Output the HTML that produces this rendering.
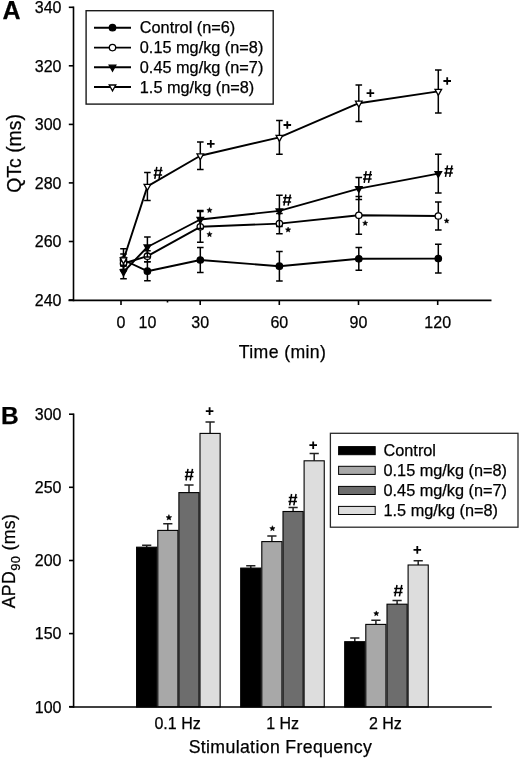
<!DOCTYPE html>
<html><head><meta charset="utf-8"><style>
html,body{margin:0;padding:0;background:#fff;}
svg{display:block;filter:grayscale(1);}
text{font-family:"Liberation Sans", sans-serif;fill:#000;stroke:#000;stroke-width:0.25px;}
.t16{font-size:16px;}
.t18{font-size:17.7px;letter-spacing:0.36px;}
.t163{font-size:16.3px;}
.tb{font-size:25px;font-weight:bold;}
.ax{stroke:#000;stroke-width:1.6;fill:none;}
.eb{stroke:#000;stroke-width:1.5;fill:none;}
.dl{stroke:#000;stroke-width:1.9;fill:none;stroke-linejoin:round;}
</style></head><body>
<svg width="520" height="758" viewBox="0 0 520 758">
<rect width="520" height="758" fill="#fff"/>
<line x1="73.5" y1="6.5" x2="73.5" y2="301.2" class="ax"/>
<line x1="68.8" y1="7.3" x2="73.5" y2="7.3" class="ax"/>
<text x="61.5" y="13.1" text-anchor="end" class="t16">340</text>
<line x1="68.8" y1="65.8" x2="73.5" y2="65.8" class="ax"/>
<text x="61.5" y="71.6" text-anchor="end" class="t16">320</text>
<line x1="68.8" y1="124.4" x2="73.5" y2="124.4" class="ax"/>
<text x="61.5" y="130.2" text-anchor="end" class="t16">300</text>
<line x1="68.8" y1="182.9" x2="73.5" y2="182.9" class="ax"/>
<text x="61.5" y="188.7" text-anchor="end" class="t16">280</text>
<line x1="68.8" y1="241.5" x2="73.5" y2="241.5" class="ax"/>
<text x="61.5" y="247.3" text-anchor="end" class="t16">260</text>
<line x1="68.8" y1="300.0" x2="73.5" y2="300.0" class="ax"/>
<text x="61.5" y="305.8" text-anchor="end" class="t16">240</text>
<line x1="68.5" y1="300.4" x2="491.5" y2="300.4" class="ax"/>
<line x1="121.0" y1="300.3" x2="121.0" y2="305" class="ax"/>
<line x1="200.2" y1="300.3" x2="200.2" y2="305" class="ax"/>
<line x1="279.3" y1="300.3" x2="279.3" y2="305" class="ax"/>
<line x1="358.5" y1="300.3" x2="358.5" y2="305" class="ax"/>
<line x1="437.7" y1="300.3" x2="437.7" y2="305" class="ax"/>
<line x1="167.5" y1="300.3" x2="167.5" y2="302.5" class="ax"/>
<text x="121.0" y="327.8" text-anchor="middle" class="t16">0</text>
<text x="147.4" y="327.8" text-anchor="middle" class="t16">10</text>
<text x="200.2" y="327.8" text-anchor="middle" class="t16">30</text>
<text x="279.3" y="327.8" text-anchor="middle" class="t16">60</text>
<text x="358.5" y="327.8" text-anchor="middle" class="t16">90</text>
<text x="437.7" y="327.8" text-anchor="middle" class="t16">120</text>
<text x="282.5" y="357.8" text-anchor="middle" class="t18">Time (min)</text>
<text transform="translate(20.6,153.4) rotate(-90)" text-anchor="middle" style="font-size:19.4px">QTc (ms)</text>
<text x="2.5" y="19" class="tb">A</text>
<path d="M123.5 254.0V266.0M120.2 254.0h6.6M120.2 266.0h6.6" class="eb"/>
<path d="M147.4 261.7V280.7M144.1 261.7h6.6M144.1 280.7h6.6" class="eb"/>
<path d="M200.3 247.4V272.6M197.0 247.4h6.6M197.0 272.6h6.6" class="eb"/>
<path d="M279.4 251.5V280.9M276.1 251.5h6.6M276.1 280.9h6.6" class="eb"/>
<path d="M358.8 247.4V270.2M355.5 247.4h6.6M355.5 270.2h6.6" class="eb"/>
<path d="M438.3 244.2V273.0M435.0 244.2h6.6M435.0 273.0h6.6" class="eb"/>
<polyline points="123.5,260.0 147.4,271.2 200.3,260.0 279.4,266.2 358.8,258.8 438.3,258.6" class="dl"/>
<circle cx="123.5" cy="260.0" r="3.2" fill="#000" stroke="#000" stroke-width="1.3"/>
<circle cx="147.4" cy="271.2" r="3.2" fill="#000" stroke="#000" stroke-width="1.3"/>
<circle cx="200.3" cy="260.0" r="3.2" fill="#000" stroke="#000" stroke-width="1.3"/>
<circle cx="279.4" cy="266.2" r="3.2" fill="#000" stroke="#000" stroke-width="1.3"/>
<circle cx="358.8" cy="258.8" r="3.2" fill="#000" stroke="#000" stroke-width="1.3"/>
<circle cx="438.3" cy="258.6" r="3.2" fill="#000" stroke="#000" stroke-width="1.3"/>
<path d="M123.5 257.5V269.5M120.2 257.5h6.6M120.2 269.5h6.6" class="eb"/>
<path d="M147.4 250.7V261.7M144.1 250.7h6.6M144.1 261.7h6.6" class="eb"/>
<path d="M200.3 211.4V242.2M197.0 211.4h6.6M197.0 242.2h6.6" class="eb"/>
<path d="M279.4 213.4V233.8M276.1 213.4h6.6M276.1 233.8h6.6" class="eb"/>
<path d="M358.8 196.4V234.2M355.5 196.4h6.6M355.5 234.2h6.6" class="eb"/>
<path d="M438.3 201.9V230.1M435.0 201.9h6.6M435.0 230.1h6.6" class="eb"/>
<polyline points="123.5,263.5 147.4,256.2 200.3,226.8 279.4,223.6 358.8,215.3 438.3,216.0" class="dl"/>
<circle cx="123.5" cy="263.5" r="3.2" fill="#fff" stroke="#000" stroke-width="1.3"/>
<circle cx="147.4" cy="256.2" r="3.2" fill="#fff" stroke="#000" stroke-width="1.3"/>
<circle cx="200.3" cy="226.8" r="3.2" fill="#fff" stroke="#000" stroke-width="1.3"/>
<circle cx="279.4" cy="223.6" r="3.2" fill="#fff" stroke="#000" stroke-width="1.3"/>
<circle cx="358.8" cy="215.3" r="3.2" fill="#fff" stroke="#000" stroke-width="1.3"/>
<circle cx="438.3" cy="216.0" r="3.2" fill="#fff" stroke="#000" stroke-width="1.3"/>
<path d="M123.5 265.2V278.8M120.2 265.2h6.6M120.2 278.8h6.6" class="eb"/>
<path d="M147.4 237.0V257.0M144.1 237.0h6.6M144.1 257.0h6.6" class="eb"/>
<path d="M200.3 210.5V228.5M197.0 210.5h6.6M197.0 228.5h6.6" class="eb"/>
<path d="M279.4 195.3V226.5M276.1 195.3h6.6M276.1 226.5h6.6" class="eb"/>
<path d="M358.8 177.6V199.6M355.5 177.6h6.6M355.5 199.6h6.6" class="eb"/>
<path d="M438.3 154.2V193.0M435.0 154.2h6.6M435.0 193.0h6.6" class="eb"/>
<polyline points="123.5,272.0 147.4,247.0 200.3,219.5 279.4,210.9 358.8,188.6 438.3,173.6" class="dl"/>
<path d="M120.2 270.0H126.8L123.5 275.9Z" fill="#000" stroke="#000" stroke-width="1.3" stroke-linejoin="miter"/>
<path d="M144.1 245.0H150.7L147.4 250.9Z" fill="#000" stroke="#000" stroke-width="1.3" stroke-linejoin="miter"/>
<path d="M197.0 217.5H203.6L200.3 223.4Z" fill="#000" stroke="#000" stroke-width="1.3" stroke-linejoin="miter"/>
<path d="M276.1 208.9H282.7L279.4 214.8Z" fill="#000" stroke="#000" stroke-width="1.3" stroke-linejoin="miter"/>
<path d="M355.5 186.6H362.1L358.8 192.5Z" fill="#000" stroke="#000" stroke-width="1.3" stroke-linejoin="miter"/>
<path d="M435.0 171.6H441.6L438.3 177.5Z" fill="#000" stroke="#000" stroke-width="1.3" stroke-linejoin="miter"/>
<path d="M123.5 248.8V270.8M120.2 248.8h6.6M120.2 270.8h6.6" class="eb"/>
<path d="M147.4 172.4V200.4M144.1 172.4h6.6M144.1 200.4h6.6" class="eb"/>
<path d="M200.3 142.0V169.6M197.0 142.0h6.6M197.0 169.6h6.6" class="eb"/>
<path d="M279.4 120.5V154.3M276.1 120.5h6.6M276.1 154.3h6.6" class="eb"/>
<path d="M358.8 84.9V121.5M355.5 84.9h6.6M355.5 121.5h6.6" class="eb"/>
<path d="M438.3 69.9V112.9M435.0 69.9h6.6M435.0 112.9h6.6" class="eb"/>
<polyline points="123.5,259.8 147.4,186.4 200.3,155.8 279.4,137.4 358.8,103.2 438.3,91.4" class="dl"/>
<path d="M120.2 257.8H126.8L123.5 263.7Z" fill="#fff" stroke="#000" stroke-width="1.3" stroke-linejoin="miter"/>
<path d="M144.1 184.4H150.7L147.4 190.3Z" fill="#fff" stroke="#000" stroke-width="1.3" stroke-linejoin="miter"/>
<path d="M197.0 153.8H203.6L200.3 159.7Z" fill="#fff" stroke="#000" stroke-width="1.3" stroke-linejoin="miter"/>
<path d="M276.1 135.4H282.7L279.4 141.3Z" fill="#fff" stroke="#000" stroke-width="1.3" stroke-linejoin="miter"/>
<path d="M355.5 101.2H362.1L358.8 107.1Z" fill="#fff" stroke="#000" stroke-width="1.3" stroke-linejoin="miter"/>
<path d="M435.0 89.4H441.6L438.3 95.3Z" fill="#fff" stroke="#000" stroke-width="1.3" stroke-linejoin="miter"/>
<path d="M156.8 166.9L154.8 178.8M161.3 166.9L159.0 178.8M154.0 170.5H162.5M153.6 174.9H162.1" stroke="#000" stroke-width="1.5" fill="none"/>
<path d="M207.0 143.9h7.6M210.8 140.1v7.6" stroke="#000" stroke-width="1.8" fill="none"/>
<polygon points="209.50,207.55 210.24,209.33 212.16,209.48 210.70,210.74 211.15,212.62 209.50,211.61 207.85,212.62 208.30,210.74 206.84,209.48 208.76,209.33" fill="#000" stroke="#000" stroke-width="0.5"/>
<polygon points="209.50,231.60 210.24,233.38 212.16,233.53 210.70,234.79 211.15,236.67 209.50,235.66 207.85,236.67 208.30,234.79 206.84,233.53 208.76,233.38" fill="#000" stroke="#000" stroke-width="0.5"/>
<path d="M283.5 125.0h7.6M287.3 121.2v7.6" stroke="#000" stroke-width="1.8" fill="none"/>
<path d="M285.9 194.5L283.9 205.6M290.4 194.5L288.1 205.6M283.2 197.8H291.5M282.8 201.9H291.1" stroke="#000" stroke-width="1.5" fill="none"/>
<polygon points="288.10,227.00 288.84,228.78 290.76,228.93 289.30,230.19 289.75,232.07 288.10,231.06 286.45,232.07 286.90,230.19 285.44,228.93 287.36,228.78" fill="#000" stroke="#000" stroke-width="0.5"/>
<path d="M366.6 93.1h7.6M370.4 89.3v7.6" stroke="#000" stroke-width="1.8" fill="none"/>
<path d="M366.2 171.2L364.2 182.8M370.8 171.2L368.5 182.8M363.4 174.7H372.0M363.0 179.0H371.6" stroke="#000" stroke-width="1.5" fill="none"/>
<polygon points="365.20,220.50 365.91,222.22 367.77,222.37 366.36,223.58 366.79,225.38 365.20,224.41 363.61,225.38 364.04,223.58 362.63,222.37 364.49,222.22" fill="#000" stroke="#000" stroke-width="0.5"/>
<path d="M443.4 81.0h7.6M447.2 77.2v7.6" stroke="#000" stroke-width="1.8" fill="none"/>
<path d="M447.5 165.3L445.5 176.9M452.0 165.3L449.7 176.9M444.7 168.8H453.2M444.3 173.1H452.8" stroke="#000" stroke-width="1.5" fill="none"/>
<polygon points="446.65,218.30 447.35,219.99 449.17,220.13 447.78,221.32 448.21,223.09 446.65,222.14 445.09,223.09 445.52,221.32 444.13,220.13 445.95,219.99" fill="#000" stroke="#000" stroke-width="0.5"/>
<rect x="86.1" y="10.7" width="187.1" height="93.4" fill="#fff" stroke="#1a1a1a" stroke-width="1.4"/>
<line x1="94" y1="27.7" x2="131" y2="27.7" class="dl"/>
<circle cx="112.5" cy="27.7" r="3.2" fill="#000" stroke="#000" stroke-width="1.3"/>
<text x="139.8" y="33.3" class="t163">Control (n=6)</text>
<line x1="94" y1="47.6" x2="131" y2="47.6" class="dl"/>
<circle cx="112.5" cy="47.6" r="3.2" fill="#fff" stroke="#000" stroke-width="1.3"/>
<text x="139.8" y="53.2" class="t163">0.15 mg/kg (n=8)</text>
<line x1="94" y1="67.2" x2="131" y2="67.2" class="dl"/>
<path d="M109.2 65.2H115.8L112.5 71.1Z" fill="#000" stroke="#000" stroke-width="1.3" stroke-linejoin="miter"/>
<text x="139.8" y="72.8" class="t163">0.45 mg/kg (n=7)</text>
<line x1="94" y1="87.0" x2="131" y2="87.0" class="dl"/>
<path d="M109.2 85.0H115.8L112.5 90.9Z" fill="#fff" stroke="#000" stroke-width="1.3" stroke-linejoin="miter"/>
<text x="139.8" y="92.6" class="t163">1.5 mg/kg (n=8)</text>
<line x1="73.6" y1="413.4" x2="73.6" y2="707.8" class="ax"/>
<line x1="69" y1="414.2" x2="73.6" y2="414.2" class="ax"/>
<text x="61.5" y="420.0" text-anchor="end" class="t16">300</text>
<line x1="69" y1="487.3" x2="73.6" y2="487.3" class="ax"/>
<text x="61.5" y="493.1" text-anchor="end" class="t16">250</text>
<line x1="69" y1="560.5" x2="73.6" y2="560.5" class="ax"/>
<text x="61.5" y="566.2" text-anchor="end" class="t16">200</text>
<line x1="69" y1="633.6" x2="73.6" y2="633.6" class="ax"/>
<text x="61.5" y="639.4" text-anchor="end" class="t16">150</text>
<line x1="69" y1="706.7" x2="73.6" y2="706.7" class="ax"/>
<text x="61.5" y="712.5" text-anchor="end" class="t16">100</text>
<text x="1.1" y="424.1" class="tb" style="font-size:24.5px">B</text>
<text transform="translate(14.6,561.0) rotate(-90)" text-anchor="middle" class="t18">APD<tspan style="font-size:12.9px" dy="5.7">90</tspan><tspan dy="-5.7"> (ms)</tspan></text>
<path d="M146.7 547.2V545.3M142.1 545.3h9.2" stroke="#222" stroke-width="1.5" fill="none"/>
<rect x="136.6" y="547.2" width="20.15" height="159.8" fill="#000" stroke="#000" stroke-width="1.1"/>
<path d="M167.8 530.4V523.7M163.2 523.7h9.2" stroke="#222" stroke-width="1.5" fill="none"/>
<rect x="157.8" y="530.4" width="20.15" height="176.6" fill="#a8a8a8" stroke="#000" stroke-width="1.1"/>
<path d="M189.0 492.6V485.0M184.4 485.0h9.2" stroke="#222" stroke-width="1.5" fill="none"/>
<rect x="178.9" y="492.6" width="20.15" height="214.4" fill="#6d6d6d" stroke="#000" stroke-width="1.1"/>
<path d="M210.1 433.4V421.9M205.5 421.9h9.2" stroke="#222" stroke-width="1.5" fill="none"/>
<rect x="200.0" y="433.4" width="20.15" height="273.6" fill="#dddddd" stroke="#000" stroke-width="1.1"/>
<path d="M250.8 568.1V565.8M246.2 565.8h9.2" stroke="#222" stroke-width="1.5" fill="none"/>
<rect x="240.7" y="568.1" width="20.15" height="138.9" fill="#000" stroke="#000" stroke-width="1.1"/>
<path d="M271.9 541.6V536.0M267.3 536.0h9.2" stroke="#222" stroke-width="1.5" fill="none"/>
<rect x="261.8" y="541.6" width="20.15" height="165.4" fill="#a8a8a8" stroke="#000" stroke-width="1.1"/>
<path d="M293.1 511.5V507.4M288.5 507.4h9.2" stroke="#222" stroke-width="1.5" fill="none"/>
<rect x="283.0" y="511.5" width="20.15" height="195.5" fill="#6d6d6d" stroke="#000" stroke-width="1.1"/>
<path d="M314.2 460.8V453.6M309.6 453.6h9.2" stroke="#222" stroke-width="1.5" fill="none"/>
<rect x="304.1" y="460.8" width="20.15" height="246.2" fill="#dddddd" stroke="#000" stroke-width="1.1"/>
<path d="M354.8 641.7V637.9M350.2 637.9h9.2" stroke="#222" stroke-width="1.5" fill="none"/>
<rect x="344.7" y="641.7" width="20.15" height="65.3" fill="#000" stroke="#000" stroke-width="1.1"/>
<path d="M375.9 624.4V620.3M371.3 620.3h9.2" stroke="#222" stroke-width="1.5" fill="none"/>
<rect x="365.8" y="624.4" width="20.15" height="82.6" fill="#a8a8a8" stroke="#000" stroke-width="1.1"/>
<path d="M397.1 604.2V600.6M392.5 600.6h9.2" stroke="#222" stroke-width="1.5" fill="none"/>
<rect x="387.0" y="604.2" width="20.15" height="102.8" fill="#6d6d6d" stroke="#000" stroke-width="1.1"/>
<path d="M418.2 565.0V560.7M413.6 560.7h9.2" stroke="#222" stroke-width="1.5" fill="none"/>
<rect x="408.1" y="565.0" width="20.15" height="142.0" fill="#dddddd" stroke="#000" stroke-width="1.1"/>
<line x1="69.3" y1="707" x2="491.8" y2="707" class="ax"/>
<polygon points="168.90,514.60 169.69,516.51 171.75,516.67 170.18,518.02 170.66,520.03 168.90,518.95 167.14,520.03 167.62,518.02 166.05,516.67 168.11,516.51" fill="#000" stroke="#000" stroke-width="0.5"/>
<path d="M188.0 468.8L186.0 480.5M192.5 468.8L190.2 480.5M185.2 472.3H193.7M184.8 476.6H193.3" stroke="#000" stroke-width="1.5" fill="none"/>
<path d="M205.8 411.1h7.6M209.6 407.3v7.6" stroke="#000" stroke-width="1.8" fill="none"/>
<polygon points="272.40,525.70 273.14,527.48 275.06,527.63 273.60,528.89 274.05,530.77 272.40,529.76 270.75,530.77 271.20,528.89 269.74,527.63 271.66,527.48" fill="#000" stroke="#000" stroke-width="0.5"/>
<path d="M291.6 494.0L289.6 505.4M296.1 494.0L293.8 505.4M288.8 497.4H297.3M288.4 501.6H296.9" stroke="#000" stroke-width="1.5" fill="none"/>
<path d="M309.4 445.2h7.6M313.2 441.4v7.6" stroke="#000" stroke-width="1.8" fill="none"/>
<polygon points="376.30,610.90 377.01,612.62 378.87,612.77 377.46,613.98 377.89,615.78 376.30,614.82 374.71,615.78 375.14,613.98 373.73,612.77 375.59,612.62" fill="#000" stroke="#000" stroke-width="0.5"/>
<path d="M397.0 585.0L394.9 596.4M401.8 585.0L399.4 596.4M394.2 588.4H403.0M393.7 592.6H402.5" stroke="#000" stroke-width="1.5" fill="none"/>
<path d="M413.5 549.9h7.6M417.3 546.1v7.6" stroke="#000" stroke-width="1.8" fill="none"/>
<text x="177.6" y="729.0" text-anchor="middle" class="t16">0.1 Hz</text>
<text x="282.6" y="729.0" text-anchor="middle" class="t16">1 Hz</text>
<text x="385.4" y="729.0" text-anchor="middle" class="t16">2 Hz</text>
<text x="280.4" y="752.6" text-anchor="middle" class="t18">Stimulation Frequency</text>
<rect x="330.4" y="433.3" width="187.6" height="93.9" fill="#fff" stroke="#2a2a2a" stroke-width="1.3"/>
<rect x="338.6" y="446.6" width="36.6" height="8.1" fill="#000" stroke="#000" stroke-width="1"/>
<text x="383.5" y="456.3" class="t163">Control</text>
<rect x="338.6" y="466.3" width="36.6" height="8.1" fill="#a8a8a8" stroke="#000" stroke-width="1"/>
<text x="383.5" y="476.1" class="t163">0.15 mg/kg (n=8)</text>
<rect x="338.6" y="486.4" width="36.6" height="8.1" fill="#6d6d6d" stroke="#000" stroke-width="1"/>
<text x="383.5" y="495.9" class="t163">0.45 mg/kg (n=7)</text>
<rect x="338.6" y="506.4" width="36.6" height="8.1" fill="#dddddd" stroke="#000" stroke-width="1"/>
<text x="383.5" y="515.7" class="t163">1.5 mg/kg (n=8)</text>
</svg>
</body></html>
